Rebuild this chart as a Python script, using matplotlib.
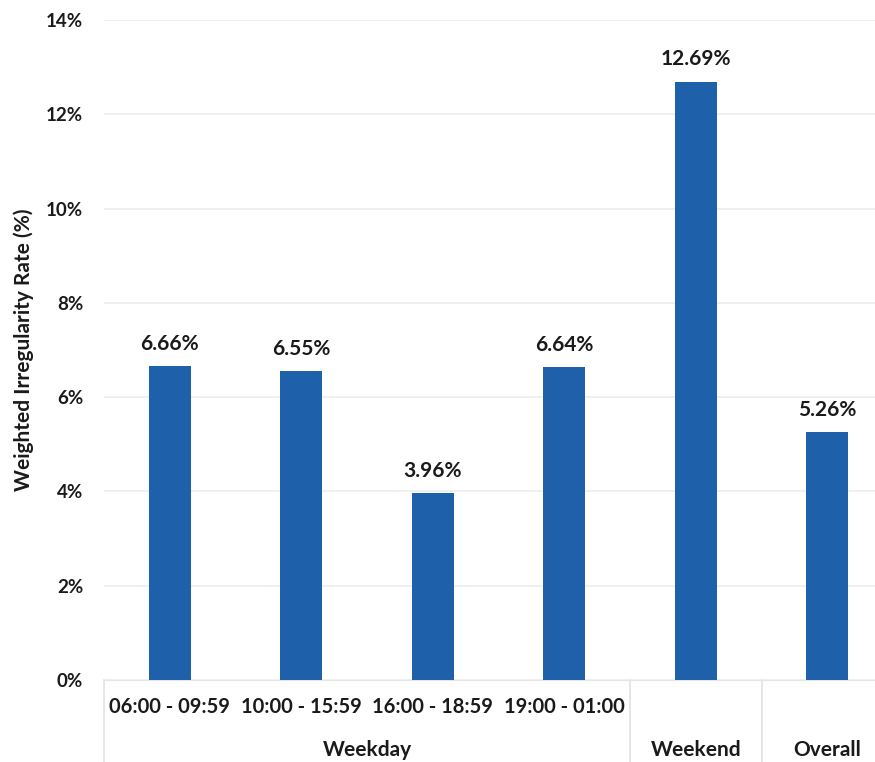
import numpy as np
import matplotlib.pyplot as plt
import matplotlib.transforms as mtransforms

plt.rcParams['font.family'] = ['Lato', 'DejaVu Sans']
plt.rcParams['font.weight'] = 'bold'

slots = ["06:00 - 09:59", "10:00 - 15:59", "16:00 - 18:59", "19:00 - 01:00", "", ""]
groups = ["Weekday", "Weekend", "Overall"]
group_spans = [(0, 3), (4, 4), (5, 5)]
rates = [6.66, 6.55, 3.96, 6.64, 12.69, 5.26]
yticks = [0, 2, 4, 6, 8, 10, 12, 14]

bar_color = "#1e60aa"
text_color = "#1a1a1a"

fig = plt.figure(figsize=(8.75, 7.62), dpi=100)
ax = fig.add_axes([0.1189, 0.1076, 0.9017, 0.866])

x = np.arange(len(rates))
ax.bar(x, rates, width=0.32, color=bar_color, zorder=3)

# value labels above each bar
for xi, r in zip(x, rates):
    ax.annotate(f"{r:.2f}%", (xi, r), xytext=(0, 9), textcoords="offset points",
                ha="center", va="bottom", fontsize=15, fontweight="bold", color=text_color)

ax.set_xlim(-0.5, len(rates) - 0.5)
ax.set_ylim(0, 14)
ax.set_yticks(yticks)
ax.set_yticklabels([f"{t}%" for t in yticks], fontsize=13.5, fontweight="bold", color=text_color)
ax.tick_params(axis="y", length=0, pad=15)
ax.grid(axis="y", color="#eeeeee", linewidth=1.2, zorder=0)

for s in ["top", "right", "left"]:
    ax.spines[s].set_visible(False)
ax.spines["bottom"].set_color("#e6e6e6")

# two-level category axis
ax.set_xticks(x)
ax.set_xticklabels(slots, fontsize=14.5, fontweight="bold", color=text_color)
ax.tick_params(axis="x", length=0, pad=12)

trans = mtransforms.blended_transform_factory(ax.transData, ax.transAxes)
for name, (lo, hi) in zip(groups, group_spans):
    ax.text((lo + hi) / 2, -0.106, name, transform=trans,
            ha="center", va="center", fontsize=15, fontweight="bold", color=text_color)
for sep in [-0.5, 3.5, 4.5]:
    ax.plot([sep, sep], [0, -0.13], transform=trans, color="#e2e2e2",
            linewidth=1.2, clip_on=False)

ax.set_ylabel("Weighted Irregularity Rate (%)", fontsize=15, fontweight="bold",
              color=text_color, labelpad=9)

fig.savefig("out.png", dpi=100)
